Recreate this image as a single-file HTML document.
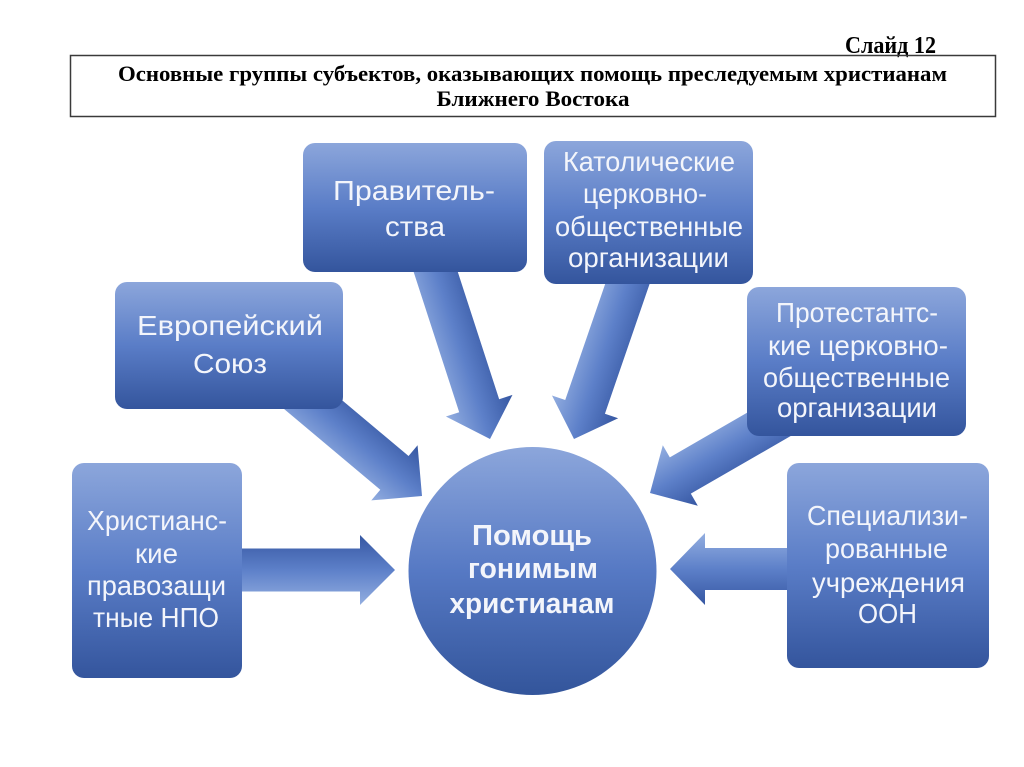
<!DOCTYPE html>
<html>
<head>
<meta charset="utf-8">
<style>
html,body{margin:0;padding:0;background:#fff;}
svg{display:block;}
.bt{font-family:"Liberation Sans","DejaVu Sans",sans-serif;font-size:28px;fill:#f3f5fb;text-anchor:middle;}
.ct{font-family:"Liberation Sans","DejaVu Sans",sans-serif;font-size:29px;font-weight:bold;fill:#f3f5fb;text-anchor:middle;}
.tt{font-family:"Liberation Serif","DejaVu Serif",serif;font-weight:bold;fill:#000;}
</style>
</head>
<body>
<svg width="1024" height="767" viewBox="0 0 1024 767" xmlns="http://www.w3.org/2000/svg">
<defs>
  <linearGradient id="bg" x1="0" y1="0" x2="0" y2="1">
    <stop offset="0" stop-color="#8ca6db"/>
    <stop offset="0.5" stop-color="#5a7dc7"/>
    <stop offset="1" stop-color="#34559d"/>
  </linearGradient>
  <linearGradient id="cg" x1="0" y1="0" x2="0" y2="1">
    <stop offset="0" stop-color="#8ca6db"/>
    <stop offset="0.5" stop-color="#5679c4"/>
    <stop offset="1" stop-color="#33559b"/>
  </linearGradient>
  <linearGradient id="ag" x1="0" y1="1" x2="0" y2="0">
    <stop offset="0" stop-color="#93aee0"/>
    <stop offset="0.5" stop-color="#5d80c9"/>
    <stop offset="1" stop-color="#3657a2"/>
  </linearGradient>
</defs>

<rect x="0" y="0" width="1024" height="767" fill="#fff"/>

<!-- Title -->
<text class="tt" x="845" y="53" font-size="24" textLength="91" lengthAdjust="spacingAndGlyphs">Слайд 12</text>
<rect x="70.5" y="55.5" width="925" height="61" fill="none" stroke="#3a3a3a" stroke-width="1.5"/>
<text class="tt" x="532.5" y="81" font-size="22" text-anchor="middle" textLength="829" lengthAdjust="spacingAndGlyphs">Основные группы субъектов, оказывающих помощь преследуемым христианам</text>
<text class="tt" x="533" y="106" font-size="22" text-anchor="middle" textLength="193" lengthAdjust="spacingAndGlyphs">Ближнего Востока</text>

<!-- Arrows -->
<polygon fill="url(#ag)" points="-190,-21 -35,-21 -35,-35 0,0 -35,35 -35,21 -190,21" transform="translate(490,439) rotate(72)"/>
<polygon fill="url(#ag)" points="-180,-21 -34,-21 -34,-35 0,0 -34,35 -34,21 -180,21" transform="translate(574,439) rotate(109)"/>
<polygon fill="url(#ag)" points="-175,-22 -36,-22 -36,-36 0,0 -36,36 -36,22 -175,22" transform="translate(422,496) rotate(40)"/>
<polygon fill="url(#ag)" points="-175,-21 -35,-21 -35,-35 0,0 -35,35 -35,21 -175,21" transform="translate(650,493) rotate(150)"/>
<polygon fill="url(#ag)" points="-170,-21.5 -35,-21.5 -35,-35 0,0 -35,35 -35,21.5 -170,21.5" transform="translate(395,570) rotate(0)"/>
<polygon fill="url(#ag)" points="-140,-21 -35,-21 -35,-36 0,0 -35,36 -35,21 -140,21" transform="translate(670,569) rotate(180)"/>

<!-- Boxes -->
<rect x="115" y="282" width="228" height="127" rx="12" fill="url(#bg)"/>
<rect x="303" y="143" width="224" height="129" rx="12" fill="url(#bg)"/>
<rect x="544" y="141" width="209" height="143" rx="12" fill="url(#bg)"/>
<rect x="747" y="287" width="219" height="149" rx="12" fill="url(#bg)"/>
<rect x="72" y="463" width="170" height="215" rx="12" fill="url(#bg)"/>
<rect x="787" y="463" width="202" height="205" rx="12" fill="url(#bg)"/>

<!-- Circle -->
<circle cx="532.5" cy="571" r="124" fill="url(#cg)"/>

<!-- Box texts -->
<text class="bt" x="230" y="335" textLength="186" lengthAdjust="spacingAndGlyphs">Европейский</text>
<text class="bt" x="230" y="373" textLength="74" lengthAdjust="spacingAndGlyphs">Союз</text>

<text class="bt" x="414" y="200" textLength="162" lengthAdjust="spacingAndGlyphs">Правитель-</text>
<text class="bt" x="415" y="236" textLength="60" lengthAdjust="spacingAndGlyphs">ства</text>

<text class="bt" x="649" y="171" textLength="172" lengthAdjust="spacingAndGlyphs">Католические</text>
<text class="bt" x="645" y="203" textLength="124" lengthAdjust="spacingAndGlyphs">церковно-</text>
<text class="bt" x="649" y="236" textLength="188" lengthAdjust="spacingAndGlyphs">общественные</text>
<text class="bt" x="648.5" y="267" textLength="161" lengthAdjust="spacingAndGlyphs">организации</text>

<text class="bt" x="857" y="322" textLength="162" lengthAdjust="spacingAndGlyphs">Протестантс-</text>
<text class="bt" x="858" y="355" textLength="180" lengthAdjust="spacingAndGlyphs">кие церковно-</text>
<text class="bt" x="856.5" y="387" textLength="187" lengthAdjust="spacingAndGlyphs">общественные</text>
<text class="bt" x="857" y="417" textLength="160" lengthAdjust="spacingAndGlyphs">организации</text>

<text class="bt" x="157" y="530" textLength="140" lengthAdjust="spacingAndGlyphs">Христианс-</text>
<text class="bt" x="156.5" y="563" textLength="43" lengthAdjust="spacingAndGlyphs">кие</text>
<text class="bt" x="156.5" y="595" textLength="139" lengthAdjust="spacingAndGlyphs">правозащи</text>
<text class="bt" x="156" y="627" textLength="126" lengthAdjust="spacingAndGlyphs">тные НПО</text>

<text class="bt" x="887.5" y="525" textLength="161" lengthAdjust="spacingAndGlyphs">Специализи-</text>
<text class="bt" x="886.5" y="558" textLength="123" lengthAdjust="spacingAndGlyphs">рованные</text>
<text class="bt" x="888.5" y="592" textLength="153" lengthAdjust="spacingAndGlyphs">учреждения</text>
<text class="bt" x="887.5" y="623" textLength="59" lengthAdjust="spacingAndGlyphs">ООН</text>

<!-- Circle text -->
<text class="ct" x="532" y="545" textLength="120" lengthAdjust="spacingAndGlyphs">Помощь</text>
<text class="ct" x="533" y="578" textLength="130" lengthAdjust="spacingAndGlyphs">гонимым</text>
<text class="ct" x="532" y="613" textLength="165" lengthAdjust="spacingAndGlyphs">христианам</text>
</svg>
</body>
</html>
